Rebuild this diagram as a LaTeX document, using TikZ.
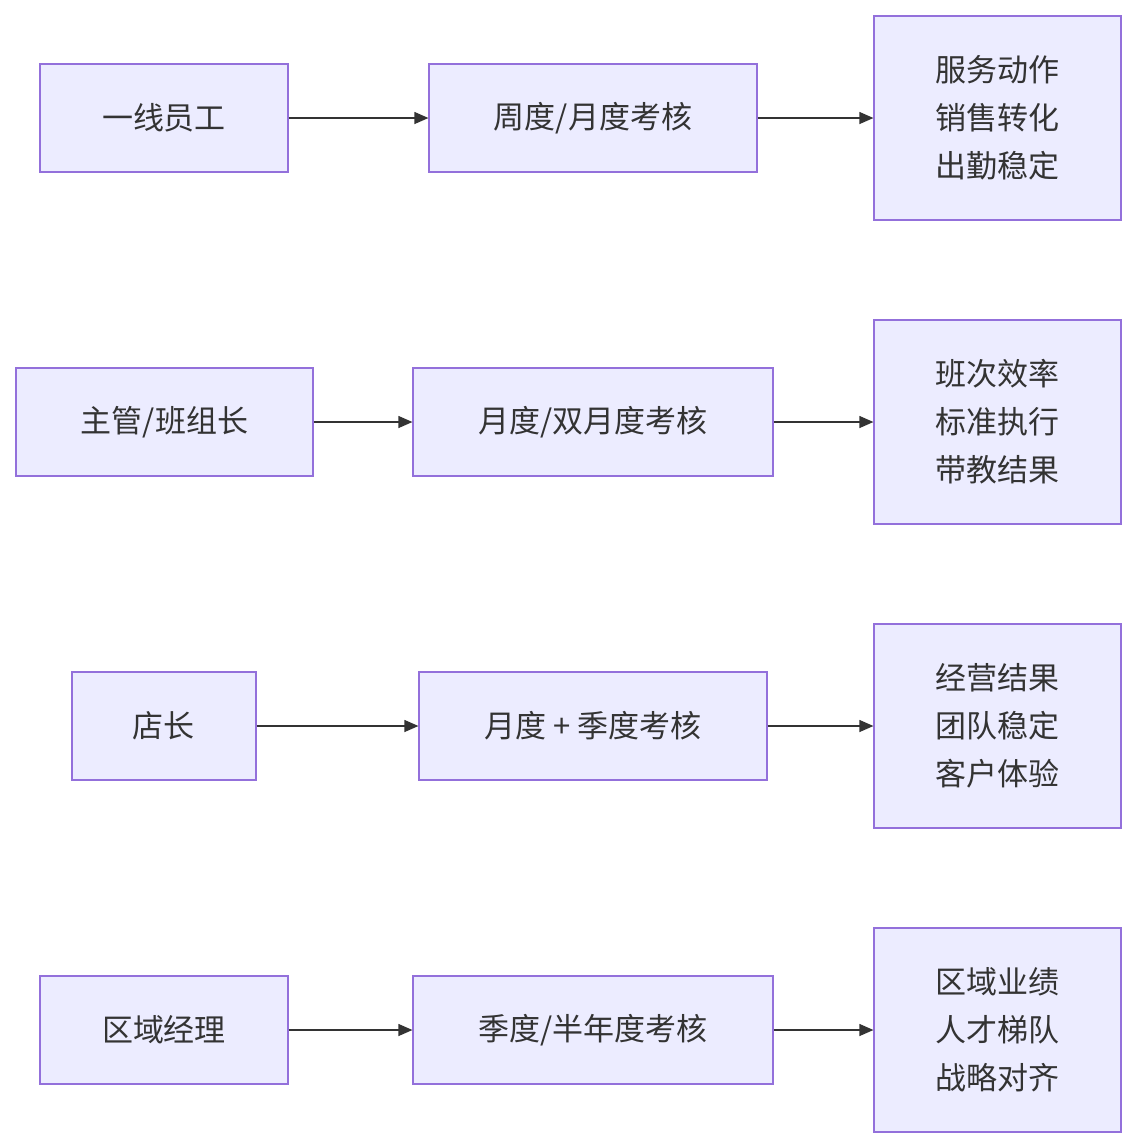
\documentclass[tikz,border=0pt]{standalone}
\usepackage{fontspec}
\setmainfont{Noto Sans CJK SC}
\usetikzlibrary{arrows.meta}
\definecolor{boxfill}{HTML}{ECECFF}
\definecolor{boxline}{HTML}{9370DB}
\definecolor{arrowc}{HTML}{333333}
\begin{document}
\begin{tikzpicture}[x=0.5pt, y=-0.5pt,
    box/.style = {draw=boxline, fill=boxfill, line width=0.6pt, inner sep=0pt,
      minimum height=54pt, font=\fontsize{15.5}{24}\selectfont, text=black!80, align=center},
    tall/.style = {box, minimum width=123.5pt, minimum height=102pt},
    arr/.style = {-{Triangle[length=7pt, width=6pt]}, color=arrowc, line width=0.6pt}]
  \useasboundingbox (0,0) rectangle (1137,1148);
  % row 1
  \node[box, minimum width=124pt] (s1) at (164,118) {一线员工};
  \node[box, minimum width=164pt] (p1) at (593,118) {周度/月度考核};
  \node[tall] (k1) at (997.5,118) {服务动作\\销售转化\\出勤稳定};
  % row 2
  \node[box, minimum width=148.5pt] (s2) at (164.5,422) {主管/班组长};
  \node[box, minimum width=180pt] (p2) at (593,422) {月度/双月度考核};
  \node[tall] (k2) at (997.5,422) {班次效率\\标准执行\\带教结果};
  % row 3
  \node[box, minimum width=92pt] (s3) at (164,726) {店长};
  \node[box, minimum width=174pt] (p3) at (593,726) {月度 + 季度考核};
  \node[tall] (k3) at (997.5,726) {经营结果\\团队稳定\\客户体验};
  % row 4
  \node[box, minimum width=124pt] (s4) at (164,1030) {区域经理};
  \node[box, minimum width=180pt] (p4) at (593,1030) {季度/半年度考核};
  \node[tall] (k4) at (997.5,1030) {区域业绩\\人才梯队\\战略对齐};

  \foreach \i in {1,...,4} {
    \draw[arr] (s\i) -- (p\i);
    \draw[arr] (p\i) -- (k\i);
  }
\end{tikzpicture}
\end{document}
